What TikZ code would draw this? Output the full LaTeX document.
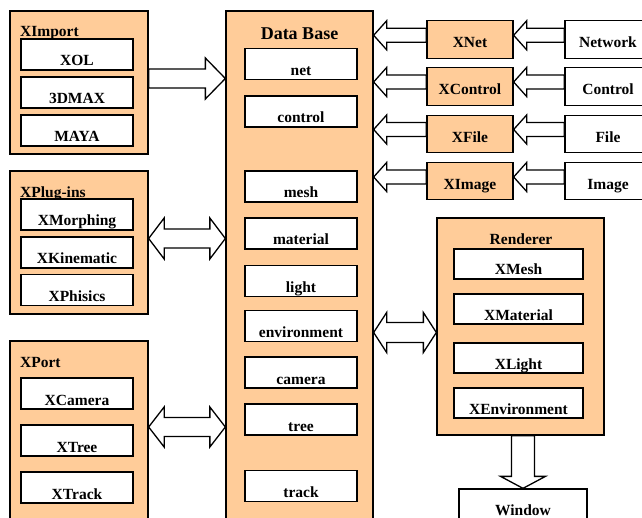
\documentclass[tikz,border=0pt]{standalone}
\usepackage{fontspec}
\setmainfont{Liberation Serif}
\usetikzlibrary{calc}
\definecolor{peach}{HTML}{FFCC99}
\newcommand\lbl{\fontsize{15.5}{18}\selectfont\bfseries}
\tikzset{
 lw/.style={line width=1.3pt},
 obox/.style={draw, lw, fill=peach, inner sep=0pt},
 ibox/.style={draw, lw, fill=white, inner sep=0pt, minimum width=112pt, text height=27pt, text depth=4pt, font=\lbl},
 rbox/.style={ibox, minimum width=129pt, text height=26pt},
 xbox/.style={draw, lw, fill=peach, inner sep=0pt, minimum width=86pt, text height=27pt, text depth=10.5pt, font=\lbl},
 sbox/.style={xbox, fill=white},
 ttl/.style={inner sep=0pt, font=\lbl, anchor=base west},
 blk/.style={draw, lw, fill=white, line join=miter},
}
% single block arrow: #1 tail, #2 tip, #3 shaft half width, #4 head half width, #5 head length
\newcommand\sarrow[5]{%
 \coordinate (bA) at ($(#2)!#5!(#1)$);
 \draw[blk] ($(#1)!#3!90:(#2)$) -- ($(bA)!#3!90:(#2)$) -- ($(bA)!#4!90:(#2)$) -- (#2)
   -- ($(bA)!#4!-90:(#2)$) -- ($(bA)!#3!-90:(#2)$) -- ($(#1)!#3!-90:(#2)$) -- cycle;}
% double block arrow: #1 tip1, #2 tip2, #3 shaft half, #4 head half, #5 head length
\newcommand\darrow[5]{%
 \coordinate (bA) at ($(#1)!#5!(#2)$);
 \coordinate (bB) at ($(#2)!#5!(#1)$);
 \draw[blk] (#1) -- ($(bA)!#4!90:(#2)$) -- ($(bA)!#3!90:(#2)$) -- ($(bB)!#3!-90:(#1)$)
   -- ($(bB)!#4!-90:(#1)$) -- (#2) -- ($(bB)!#4!90:(#1)$) -- ($(bB)!#3!90:(#1)$)
   -- ($(bA)!#3!-90:(#2)$) -- ($(bA)!#4!-90:(#2)$) -- cycle;}
\begin{document}
\begin{tikzpicture}[x=1pt,y=-1pt]
\useasboundingbox (0,0) rectangle (642,518);
\clip (0,0) rectangle (642,518);
\fill[white] (0,0) rectangle (642,518);
% outer boxes
\node[obox, minimum width=138pt, minimum height=143pt] (ximport) at (79,82.5) {};
\node[obox, minimum width=138pt, minimum height=143pt] (xplug) at (79,242.5) {};
\node[obox, minimum width=138pt, minimum height=189pt] (xport) at (79,435.5) {};
\node[obox, minimum width=147pt, minimum height=519pt] (db) at (299.5,270.5) {};
\node[obox, minimum width=167pt, minimum height=217pt] (renderer) at (520.5,326.5) {};
% titles
\node[ttl] (timport) at (20,37) {XImport};
\node[ttl] (tplug) at (20,198) {XPlug-ins};
\node[ttl] (tport) at (20,367) {XPort};
\node[inner sep=0pt, anchor=base, font=\fontsize{18}{21}\selectfont\bfseries] (tdb) at (299.5,40) {Data Base};
\node[inner sep=0pt, anchor=base, font=\lbl] (tren) at (521,245) {Renderer};
% left inner boxes
\node[ibox] (xol) at (77,54.5) {XOL};
\node[ibox] (max) at (77,92.5) {3DMAX};
\node[ibox] (maya) at (77,130.5) {MAYA};
\node[ibox] (xmorph) at (77,214.5) {XMorphing};
\node[ibox] (xkin) at (77,252.5) {XKinematic};
\node[ibox] (xphis) at (77,290) {XPhisics};
\node[ibox] (xcam) at (77,393.5) {XCamera};
\node[ibox] (xtree) at (77,440.5) {XTree};
\node[ibox] (xtrack) at (77,487.5) {XTrack};
% database inner boxes
\node[ibox] (net) at (301,64) {net};
\node[ibox] (control) at (301,111.5) {control};
\node[ibox] (mesh) at (301,186.5) {mesh};
\node[ibox] (material) at (301,233.5) {material};
\node[ibox] (light) at (301,281) {light};
\node[ibox] (env) at (301,326) {environment};
\node[ibox] (camera) at (301,372.5) {camera};
\node[ibox] (tree) at (301,419.5) {tree};
\node[ibox] (track) at (301,486) {track};
% renderer inner boxes
\node[rbox] (rmesh) at (518.5,264) {XMesh};
\node[rbox] (rmat) at (518.5,309) {XMaterial};
\node[rbox] (rlight) at (518.5,358) {XLight};
\node[rbox] (renv) at (518.5,403) {XEnvironment};
% right column
\node[xbox] (xnet) at (470,39.5) {XNet};
\node[xbox] (xcontrol) at (470,86.5) {XControl};
\node[xbox] (xfile) at (470,134) {XFile};
\node[xbox] (ximage) at (470,181) {XImage};
\node[sbox] (network) at (608,39.5) {Network};
\node[sbox] (scontrol) at (608,86.5) {Control};
\node[sbox] (sfile) at (608,134) {File};
\node[sbox] (simage) at (608,181) {Image};
% window
\node[draw, lw, fill=white, minimum width=128pt, minimum height=41pt, inner sep=0pt] (window) at (523,509.5) {};
\node[inner sep=0pt, anchor=base, font=\lbl] (wtxt) at (523,515) {Window};
% arrows left
\coordinate (a1s) at (ximport.east |- 0,78.5);
\coordinate (a1t) at (db.west |- 0,78.5);
\sarrow{a1s}{a1t}{9.5pt}{20.5pt}{20pt}
\coordinate (a2s) at (xplug.east |- 0,238.5);
\coordinate (a2t) at (db.west |- 0,238.5);
\darrow{a2s}{a2t}{9.5pt}{20.5pt}{15.5pt}
\coordinate (a3s) at (xport.east |- 0,427);
\coordinate (a3t) at (db.west |- 0,427);
\darrow{a3s}{a3t}{9.5pt}{20pt}{15.5pt}
% arrows right
\coordinate (r1s) at (xnet.west |- 0,35.3);  \coordinate (r1t) at (db.east |- 0,35.3);
\coordinate (r2s) at (xcontrol.west |- 0,82); \coordinate (r2t) at (db.east |- 0,82);
\coordinate (r3s) at (xfile.west |- 0,129.5); \coordinate (r3t) at (db.east |- 0,129.5);
\coordinate (r4s) at (ximage.west |- 0,177); \coordinate (r4t) at (db.east |- 0,177);
\sarrow{r1s}{r1t}{7pt}{14.5pt}{13pt}
\sarrow{r2s}{r2t}{7pt}{14.5pt}{13pt}
\sarrow{r3s}{r3t}{7pt}{14.5pt}{13pt}
\sarrow{r4s}{r4t}{7pt}{14.5pt}{13pt}
\coordinate (n1s) at (network.west |- 0,35.3);  \coordinate (n1t) at (xnet.east |- 0,35.3);
\coordinate (n2s) at (scontrol.west |- 0,82); \coordinate (n2t) at (xcontrol.east |- 0,82);
\coordinate (n3s) at (sfile.west |- 0,129.5); \coordinate (n3t) at (xfile.east |- 0,129.5);
\coordinate (n4s) at (simage.west |- 0,177); \coordinate (n4t) at (ximage.east |- 0,177);
\sarrow{n1s}{n1t}{7pt}{14.5pt}{13pt}
\sarrow{n2s}{n2t}{7pt}{14.5pt}{13pt}
\sarrow{n3s}{n3t}{7pt}{14.5pt}{13pt}
\sarrow{n4s}{n4t}{7pt}{14.5pt}{13pt}
% db <-> renderer
\coordinate (d1) at (db.east |- 0,332.5);
\coordinate (d2) at (renderer.west |- 0,332.5);
\darrow{d1}{d2}{10pt}{20pt}{13pt}
% renderer -> window
\coordinate (w1) at (renderer.south -| window.north);
\sarrow{w1}{window.north}{11.5pt}{22.5pt}{12pt}
\end{tikzpicture}
\end{document}
